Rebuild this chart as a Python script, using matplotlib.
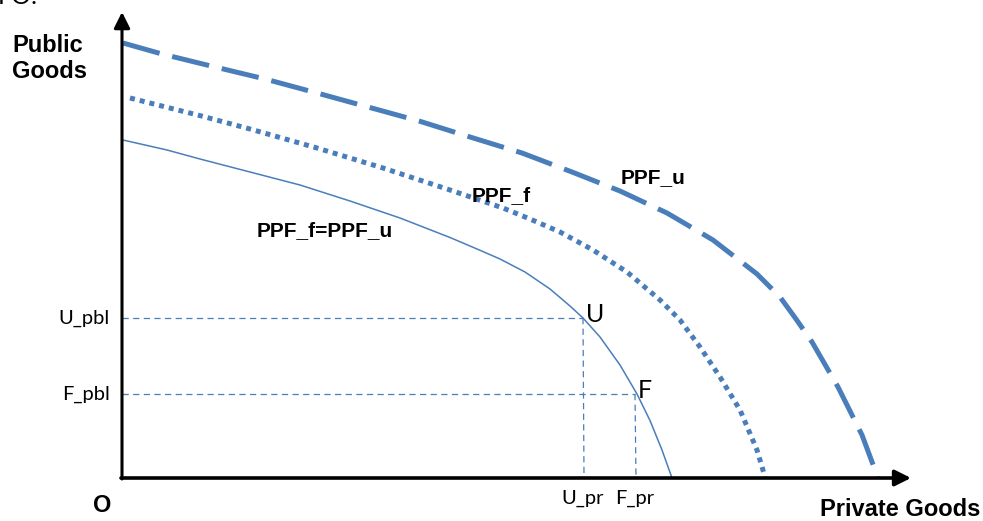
import matplotlib
matplotlib.use('Agg')
import matplotlib.pyplot as plt

# curves (x = private goods, y = public goods, origin at O)
ppf_fu_x = [1, 45, 78, 128, 178, 228, 278, 328, 355, 378, 403, 428, 448, 461,
            478, 498, 515, 528, 540, 550]
ppf_fu_y = [338, 328, 319, 306, 293, 277, 260, 240.5, 229, 219, 206, 189, 172, 160,
            141, 113, 84, 57.5, 28, 0]

ppf_f_x = [8, 78, 128, 195, 261, 328, 381, 408, 438, 471, 505, 538, 558, 578, 598, 618, 635, 643]
ppf_f_y = [380, 362.4, 349, 330, 310, 288, 270, 259, 246, 228, 206, 178, 158, 131, 101, 68, 28, 1]

ppf_u_x = [1, 40, 91, 143, 195, 246, 297, 348, 400, 450, 498, 545, 591, 635, 658, 674, 690, 716, 740, 756]
ppf_u_y = [435, 424, 411.5, 399, 385, 371, 357, 341, 325, 306, 287, 265, 238, 204, 181, 159, 136, 91, 43, 0]

# the two points on the inner frontier
pt_names = ['U', 'F']
pt_x = [461, 513]
pt_y = [160, 84]
pbl_labels = ['U_pbl', 'F_pbl']
pr_labels = ['U_pr', 'F_pr']

blue = '#4A7EBB'
bold_font = 'Liberation Sans'
reg_font = 'Lato'

fig = plt.figure(figsize=(9.83, 5.21), dpi=100)
ax = fig.add_axes([0, 0, 1, 1])
ax.set_xlim(-122, 861)
ax.set_ylim(-43, 478)
ax.axis('off')

# axes with arrows
ax.annotate('', xy=(0, 466), xytext=(0, -1),
            arrowprops=dict(arrowstyle='-|>', lw=2.2, color='black', mutation_scale=24, shrinkA=0, shrinkB=0))
ax.annotate('', xy=(789, 0), xytext=(-1, 0),
            arrowprops=dict(arrowstyle='-|>', lw=2.6, color='black', mutation_scale=24, shrinkA=0, shrinkB=0))

# frontiers
ax.plot(ppf_fu_x, ppf_fu_y, color=blue, lw=1.1, solid_capstyle='butt', solid_joinstyle='round')
ax.plot(ppf_f_x, ppf_f_y, color=blue, lw=3.6, linestyle=(0, (1, 1)), dash_capstyle='butt')
ax.plot(ppf_u_x, ppf_u_y, color=blue, lw=3.6, linestyle=(0, (7.6, 2.6)), dash_capstyle='butt')

# guide lines to the axes
for px, py in zip(pt_x, pt_y):
    ax.plot([0, px], [py, py], color=blue, lw=0.9, linestyle=(0, (5, 3.5)))
    ax.plot([px, px + 1], [py, 0], color=blue, lw=0.9, linestyle=(0, (5, 3.5)))

for name, px, py in zip(pt_names, pt_x, pt_y):
    ax.text(px + 3, py + 3, name, fontsize=18, family=reg_font, ha='left', va='center')
for lab, py in zip(pbl_labels, pt_y):
    ax.text(-12, py, lab, fontsize=14.5, family=reg_font, ha='right', va='center')
for lab, px in zip(pr_labels, pt_x):
    ax.text(px, -20, lab, fontsize=14.5, family=reg_font, ha='center', va='center')

# axis titles
ax.text(-110, 444, 'Public\nGoods', fontsize=17, family=bold_font, weight='bold',
        ha='left', va='top', linespacing=1.15)
ax.text(858, -32, 'Private Goods', fontsize=17, family=bold_font, weight='bold', ha='right', va='center')
ax.text(-20, -27, 'O', fontsize=17, family=bold_font, weight='bold', ha='center', va='center')

# curve labels
ax.text(499, 300, 'PPF_u', fontsize=15, family=bold_font, weight='bold', ha='left', va='center')
ax.text(350, 282, 'PPF_f', fontsize=15, family=bold_font, weight='bold', ha='left', va='center')
ax.text(135, 247, 'PPF_f=PPF_u', fontsize=15, family=bold_font, weight='bold', ha='left', va='center')

# clipped text at the top edge of the original picture
ax.text(-124, 474, 'FO:', fontsize=18, family=reg_font, ha='left', va='baseline')

fig.savefig('out.png', dpi=100)
